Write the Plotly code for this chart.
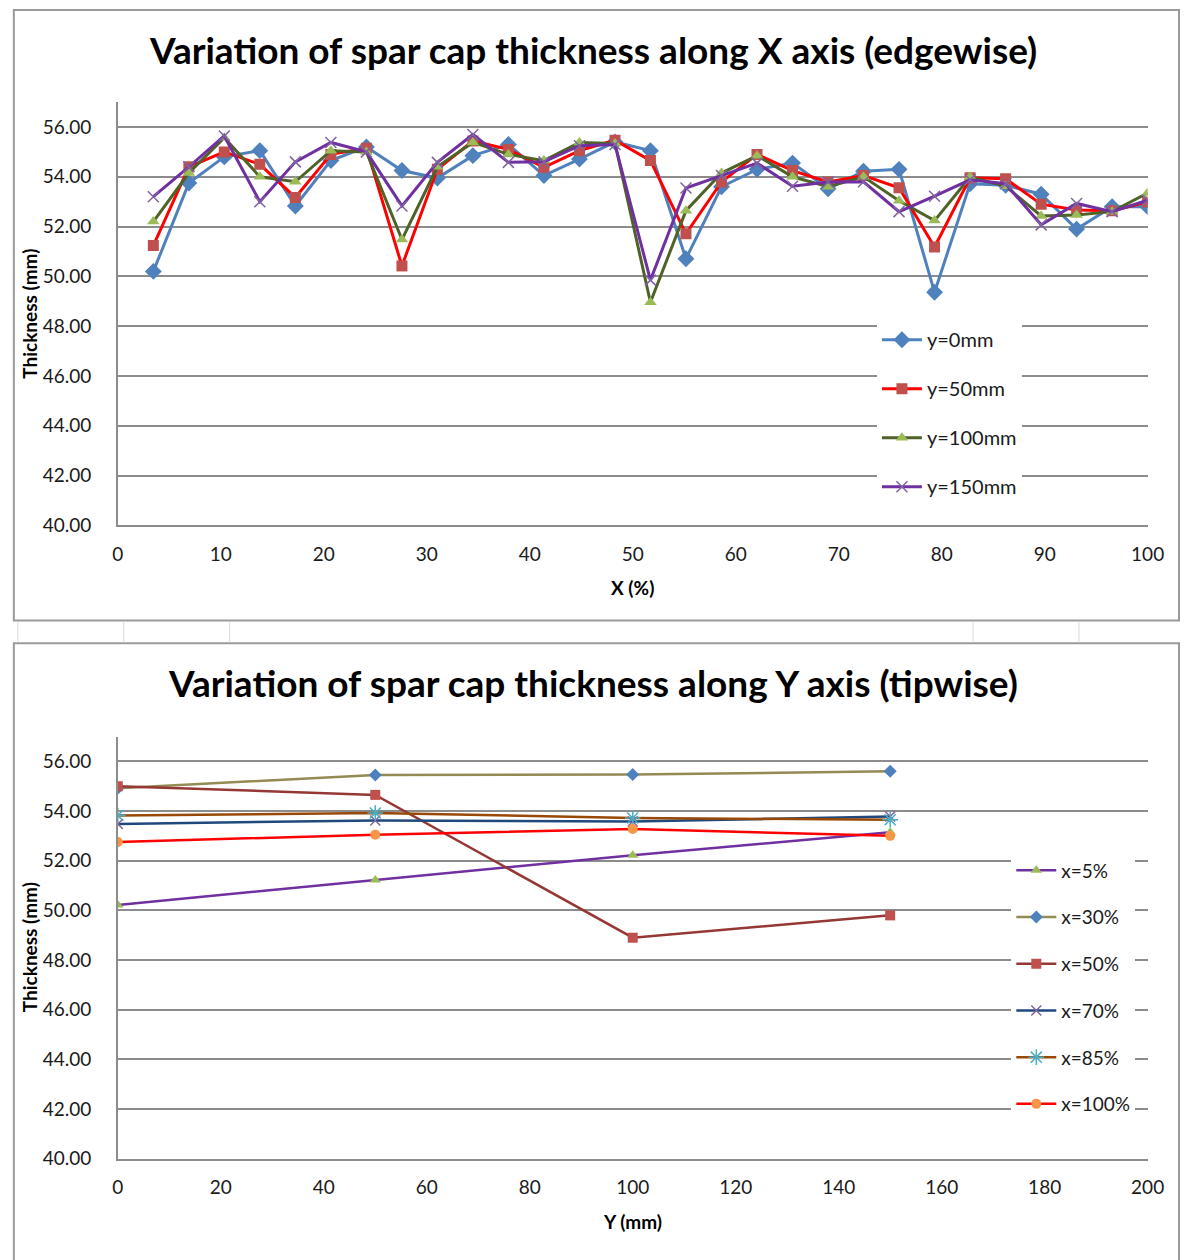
import plotly.graph_objects as go

# top chart: thickness along X (%) for four y stations
x_pct = [3.45, 6.90, 10.34, 13.79, 17.24, 20.69, 24.14, 27.59, 31.03, 34.48,
         37.93, 41.38, 44.83, 48.28, 51.72, 55.17, 58.62, 62.07, 65.52, 68.97,
         72.41, 75.86, 79.31, 82.76, 86.21, 89.66, 93.10, 96.55, 100.0]

y0 = [50.20, 53.75, 54.80, 55.05, 52.83, 54.65, 55.20, 54.25, 53.95, 54.85,
      55.30, 54.05, 54.71, 55.40, 55.05, 50.71, 53.60, 54.30, 54.55, 53.52,
      54.22, 54.30, 49.36, 53.72, 53.66, 53.30, 51.90, 52.80, 52.80]
y50 = [51.24, 54.40, 55.00, 54.50, 53.17, 54.90, 55.15, 50.42, 54.30, 55.44,
       55.10, 54.38, 55.05, 55.47, 54.65, 51.71, 53.79, 54.90, 54.25, 53.79,
       54.05, 53.56, 51.18, 53.96, 53.92, 52.90, 52.67, 52.64, 52.99]
y100 = [52.20, 54.15, 55.57, 54.00, 53.80, 55.05, 55.00, 51.48, 54.40, 55.38,
        54.90, 54.65, 55.38, 55.34, 48.96, 52.64, 54.15, 54.85, 54.00, 53.60,
        54.00, 53.04, 52.24, 53.99, 53.62, 52.43, 52.47, 52.60, 53.35]
y150 = [53.20, 54.40, 55.64, 53.00, 54.60, 55.38, 55.00, 52.83, 54.58, 55.70,
        54.58, 54.60, 55.25, 55.30, 49.85, 53.55, 54.05, 54.55, 53.62, 53.79,
        53.80, 52.60, 53.22, 53.88, 53.72, 52.07, 52.93, 52.60, 53.06]

# bottom chart: thickness along Y (mm) for six x stations
y_mm = [0, 50, 100, 150]
x5 = [50.22, 51.22, 52.22, 53.15]
x30 = [54.92, 55.45, 55.47, 55.60]
x50 = [55.00, 54.65, 48.90, 49.80]
x70 = [53.48, 53.62, 53.58, 53.78]
x85 = [53.82, 53.92, 53.72, 53.65]
x100 = [52.75, 53.05, 53.28, 53.00]

W, H = 1197, 1260
FONT = "Lato"
GRID = "#8c8c8c"


def px(x):
    return x / W


def py(y):
    return 1 - y / H


fig = go.Figure()

top = [
    ("y=0mm", y0, "#4F81BD", "diamond", "#4F81BD", 13),
    ("y=50mm", y50, "#FF0000", "square", "#C0504D", 11),
    ("y=100mm", y100, "#4F6228", "triangle-up", "#9BBB59", 11),
    ("y=150mm", y150, "#7030A0", "x-thin-open", "#8064A2", 11),
]
for name, vals, lc, sym, mc, ms in top:
    fig.add_trace(go.Scatter(
        x=x_pct, y=vals, name=name, mode="lines+markers",
        line=dict(color=lc, width=3),
        marker=dict(symbol=sym, color=mc, size=ms,
                    line=dict(color=mc, width=1.5 if "thin" in sym else 0)),
        xaxis="x", yaxis="y", legend="legend", legendgroup=name))

bottom = [
    ("x=5%", x5, "#7030A0", "triangle-up", "#9BBB59", 10),
    ("x=30%", x30, "#948A54", "diamond", "#4F81BD", 10),
    ("x=50%", x50, "#953735", "square", "#C0504D", 10),
    ("x=70%", x70, "#1F497D", "x-thin-open", "#8064A2", 10),
    ("x=85%", x85, "#984807", "asterisk-open", "#4BACC6", 13),
    ("x=100%", x100, "#FF0000", "circle", "#F79646", 10),
]
for name, vals, lc, sym, mc, ms in bottom:
    thin = sym.endswith("-open")
    fig.add_trace(go.Scatter(
        x=y_mm, y=vals, name=name, mode="lines+markers",
        line=dict(color=lc, width=2.5),
        marker=dict(symbol=sym, color=mc, size=ms,
                    line=dict(color=mc, width=1.5 if thin else 0)),
        xaxis="x2", yaxis="y2", legend="legend2", legendgroup=name))

tick_font = dict(family=FONT, size=19, color="#1a1a1a")
xdom = [px(114), px(1164)]


def yaxis(dom, anchor):
    return dict(domain=dom, anchor=anchor, range=[40, 57], dtick=2, tick0=40,
                tickformat=".2f", showgrid=True, gridcolor=GRID, gridwidth=1.5,
                showline=True, linecolor=GRID, linewidth=1.5, zeroline=False,
                tickfont=tick_font, ticks="", ticklabelstandoff=21)


def xaxis(dom, anchor, rng, dt):
    return dict(domain=dom, anchor=anchor, range=rng, dtick=dt, tick0=0,
                showgrid=False, showline=True, linecolor=GRID, linewidth=1.5,
                zeroline=False, tickfont=tick_font, ticks="",
                ticklabelstandoff=11)


layout = dict(
    width=W, height=H, margin=dict(l=0, r=0, t=0, b=0),
    paper_bgcolor="white", plot_bgcolor="white",
    xaxis=xaxis(xdom, "y", [0, 100], 10),
    yaxis=yaxis([py(530), py(103)], "x"),
    xaxis2=xaxis(xdom, "y2", [0, 200], 20),
    yaxis2=yaxis([py(1169), py(743)], "x2"),
    legend=dict(x=px(888), y=py(323), xanchor="left", yanchor="top",
                bgcolor="white", font=dict(family=FONT, size=20, color="#1a1a1a"),
                tracegroupgap=20, itemwidth=40),
    legend2=dict(x=px(1025), y=py(859), xanchor="left", yanchor="top",
                 bgcolor="white", font=dict(family=FONT, size=19, color="#1a1a1a"),
                 tracegroupgap=19, itemwidth=40),
    showlegend=True,
)
fig.update_layout(**layout)

title_font = dict(family=FONT, size=37, color="black", weight="bold")
label_font = dict(family=FONT, size=19, color="black", weight="bold")
annots = [
    dict(text="Variation of spar cap thickness along X axis (edgewise)",
         x=px(598), y=py(50), font=title_font),
    dict(text="Variation of spar cap thickness along Y axis (tipwise)",
         x=px(598), y=py(689), font=title_font),
    dict(text="X (%)", x=px(639), y=py(593), font=label_font),
    dict(text="Y (mm)", x=px(639), y=py(1232), font=label_font),
    dict(text="Thickness (mm)", x=px(24), y=py(317), font=label_font, textangle=-90),
    dict(text="Thickness (mm)", x=px(24), y=py(956), font=label_font, textangle=-90),
]
for a in annots:
    fig.add_annotation(xref="paper", yref="paper", showarrow=False,
                       xanchor="center", yanchor="middle", **a)

# chart frames and the worksheet column lines between them
frames = [(8, 10, 1196, 626), (8, 649, 1196, 1275)]
for x0, y0_, x1, y1 in frames:
    fig.add_shape(type="rect", xref="paper", yref="paper",
                  x0=px(x0), x1=px(x1), y0=py(y1), y1=py(y0_),
                  line=dict(color="#9a9a9a", width=2), layer="below")
for cx in [12, 120, 228, 986, 1094]:
    fig.add_shape(type="line", xref="paper", yref="paper",
                  x0=px(cx), x1=px(cx), y0=py(648), y1=py(627),
                  line=dict(color="#d9d9d9", width=1))

fig.write_html("out.html", config={"displayModeBar": False},
               post_script="document.body.style.margin='0';"
                           "document.body.style.overflow='hidden';")
